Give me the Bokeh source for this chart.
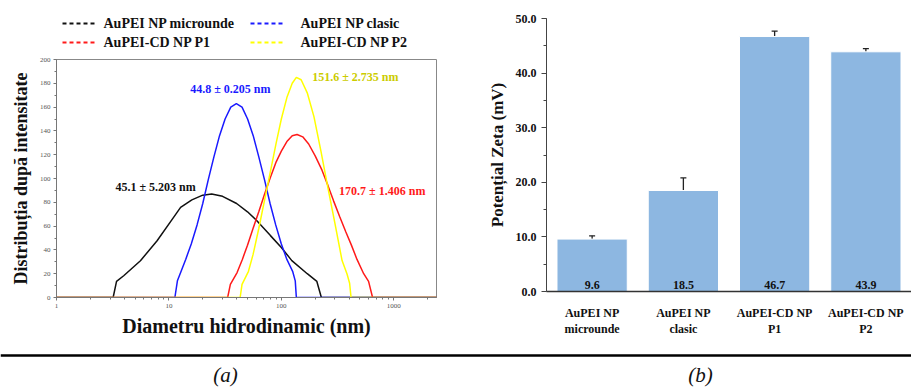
from bokeh.plotting import figure
from bokeh.models import (ColumnDataSource, Range1d, FactorRange,
                          SingleIntervalTicker, FixedTicker, PrintfTickFormatter,
                          Whisker, TeeHead, Span)
from bokeh.layouts import column, row
from bokeh.embed import file_html
from bokeh.resources import INLINE
from bokeh.core.properties import value

# ---------------- data: (a) DLS size distributions ----------------
black_d = [1, 3.19, 3.42, 3.96, 5.58, 7.85, 11.0, 12.7, 16, 20, 24, 30, 40, 50, 60, 80, 100, 124, 170, 207, 227, 2400]
black_v = [0, 0, 13.5, 18.3, 30.9, 47.7, 67.3, 75.7, 82, 86, 87, 85, 79, 72, 65, 52, 42, 31, 20, 13.5, 0, 0]

blue_d = [1, 11.3, 11.9, 14.1, 15.8, 17.8, 20, 22.4, 25.1, 28.2, 31.6, 35.5, 39.8, 44.7, 50.1, 56.2,
          63.1, 70.8, 79.4, 89.1, 100, 112, 126, 133, 136, 2400]
blue_v = [0, 0, 14, 32, 45, 61, 79, 99, 118, 136, 150, 160, 163, 160, 150, 136,
          118, 99, 79, 61, 45, 32, 22, 14, 0, 0]

red_d = [1, 33.3, 35.2, 40.4, 45, 50, 56, 63, 71, 80, 90, 100, 112, 125, 138, 155, 175, 200,
         230, 260, 292, 330, 375, 420, 471, 540, 597, 648, 2400]
red_v = [0, 0, 11, 21, 32, 44, 58, 72, 87, 101, 114, 123, 131, 136, 137, 135, 129, 119,
         107, 94, 81, 68, 55, 44, 32, 20, 13.5, 0, 0]

yellow_d = [1, 43, 44.7, 51, 56, 63, 71, 80, 90, 100, 112, 125, 136, 150, 170, 195, 225, 260,
            300, 347, 384, 405, 417, 2400]
yellow_v = [0, 0, 11, 22, 36, 58, 82, 106, 130, 150, 168, 180, 185, 183, 172, 152, 123, 92,
            62, 31, 19.7, 12, 0, 0]

series_names = ["AuPEI NP microunde", "AuPEI NP clasic", "AuPEI-CD NP P1", "AuPEI-CD NP P2"]
series_colors = ["#111111", "#1a1aff", "#ff1a1a", "#ffff00"]

peak_labels = ["45.1 ± 5.203 nm", "44.8 ± 0.205 nm", "170.7 ± 1.406 nm", "151.6 ± 2.735 nm"]
peak_label_x = [7.6, 35.2, 790, 455]
peak_label_y = [93, 175.6, 89.8, 185.7]
peak_label_colors = ["#111111", "#1a1aff", "#ff1a1a", "#cccc00"]

x_major = [1, 10, 100, 1000]
x_minor = [2, 3, 4, 5, 6, 7, 8, 9, 20, 30, 40, 50, 60, 70, 80, 90,
           200, 300, 400, 500, 600, 700, 800, 900, 2000]

# ---------------- data: (b) zeta potential ----------------
samples = ["AuPEI NP\nmicrounde", "AuPEI NP\nclasic", "AuPEI-CD NP\nP1", "AuPEI-CD NP\nP2"]
zeta = [9.6, 18.5, 46.7, 43.9]
zeta_err = [0.6, 2.3, 1.0, 0.6]

captions = ["(a)", "(b)"]

SERIF = "Liberation Serif"

# layout constants (screen pixels)
W1, W2, H_TOP, H_LEG, H_CAP = 460, 451, 296, 52, 40

# ================= legend strip for (a) =================
pl = figure(width=W1, height=H_LEG, x_range=Range1d(0, W1), y_range=Range1d(0, H_LEG),
            output_backend="svg", toolbar_location=None, min_border=0,
            outline_line_color=None)
pl.axis.visible = False
pl.grid.visible = False
leg_col_x = [62, 250]
leg_col_gap = [41, 50]
leg_row_y = [29, 10]
leg_pos = [(0, 0), (1, 0), (0, 1), (1, 1)]  # (column, row) for each series
for name, c, (ci, ri) in zip(series_names, series_colors, leg_pos):
    x0 = leg_col_x[ci]
    y0 = leg_row_y[ri]
    pl.line([x0, x0 + 32], [y0, y0], line_color=c, line_width=1.8, line_dash="4 3")
    pl.text([x0 + leg_col_gap[ci]], [y0], text=[name], text_font=value(SERIF),
            text_font_style="bold", text_font_size="14px", text_color="#111111",
            text_baseline="middle")

# ================= (a) =================
p1 = figure(width=W1, height=H_TOP, x_axis_type="log",
            x_range=Range1d(1, 2400), y_range=Range1d(0, 200),
            output_backend="svg", toolbar_location=None,
            min_border_left=56, min_border_right=24, min_border_top=7, min_border_bottom=51)
p1.xgrid.visible = False
p1.ygrid.visible = False
p1.outline_line_color = "#888888"

curves = [(black_d, black_v), (blue_d, blue_v), (red_d, red_v), (yellow_d, yellow_v)]
for (d, v), c in zip(curves, series_colors):
    p1.line(d, v, line_color=c, line_width=1.5)

lsrc = ColumnDataSource(dict(x=peak_label_x, y=peak_label_y, t=peak_labels, c=peak_label_colors))
p1.text(x="x", y="y", text="t", text_color="c", source=lsrc,
        text_font=value(SERIF), text_font_style="bold", text_font_size="12px",
        text_align="center", text_baseline="middle")

p1.xaxis.ticker = FixedTicker(ticks=x_major, minor_ticks=x_minor)
p1.xaxis.formatter = PrintfTickFormatter(format="%d")
p1.yaxis.ticker = SingleIntervalTicker(interval=20, num_minor_ticks=2)
for ax in (p1.xaxis, p1.yaxis):
    ax.major_label_text_font = SERIF
    ax.major_label_text_font_size = "7px"
    ax.major_label_text_color = "#555555"
    ax.axis_line_color = "#777777"
    ax.major_tick_line_color = "#777777"
    ax.minor_tick_line_color = "#777777"
    ax.major_tick_in = 0
    ax.major_tick_out = 3
    ax.minor_tick_in = 0
    ax.minor_tick_out = 2
    ax.major_label_standoff = 3
    ax.axis_label_text_font = SERIF
    ax.axis_label_text_font_style = "bold"
    ax.axis_label_text_color = "#111111"
p1.xaxis.axis_label = "Diametru hidrodinamic (nm)"
p1.xaxis.axis_label_text_font_size = "20px"
p1.xaxis.axis_label_standoff = 4
p1.yaxis.axis_label = "Distribuția după intensitate"
p1.yaxis.axis_label_text_font_size = "18px"
p1.yaxis.axis_label_standoff = 6

# ================= (b) =================
upper = [z + e for z, e in zip(zeta, zeta_err)]
lower = [z - e for z, e in zip(zeta, zeta_err)]
bsrc = ColumnDataSource(dict(sample=samples, zeta=zeta, upper=upper, lower=lower,
                             lab=["%.1f" % z for z in zeta], base=[0] * len(zeta)))

p2 = figure(width=W2, height=H_LEG + H_TOP, x_range=FactorRange(*samples), y_range=Range1d(0, 50),
            output_backend="svg", toolbar_location=None,
            min_border_left=86, min_border_right=0, min_border_top=18, min_border_bottom=57)
p2.xgrid.visible = False
p2.ygrid.visible = False
p2.outline_line_color = None
p2.x_range.range_padding = 0

p2.vbar(x="sample", top="zeta", width=0.77, source=bsrc,
        fill_color="#8DB7E1", line_color="white", line_width=1)
p2.add_layout(Whisker(source=bsrc, base="sample", upper="upper", lower="lower",
                      line_color="#222222", line_width=1.3,
                      upper_head=TeeHead(size=6, line_color="#222222", line_width=1.3),
                      lower_head=TeeHead(size=6, line_color="#222222", line_width=1.3)))
p2.text(x="sample", y="base", text="lab", source=bsrc,
        text_font=value(SERIF), text_font_style="bold", text_font_size="12px",
        text_color="#111111", text_align="center", text_baseline="bottom", y_offset=-3)

p2.yaxis.ticker = SingleIntervalTicker(interval=10, num_minor_ticks=2)
p2.yaxis.formatter = PrintfTickFormatter(format="%.1f")
p2.yaxis.major_tick_in = 0
p2.yaxis.major_tick_out = 5
p2.yaxis.minor_tick_in = 0
p2.yaxis.minor_tick_out = 3
p2.yaxis.axis_line_color = "#444444"
p2.yaxis.major_tick_line_color = "#444444"
p2.yaxis.minor_tick_line_color = "#444444"
p2.xaxis.major_tick_line_color = None
p2.xaxis.minor_tick_line_color = None
p2.xaxis.axis_line_color = "#333333"
p2.xaxis.axis_line_width = 1.5
p2.xaxis.major_label_standoff = 8
for ax in (p2.xaxis, p2.yaxis):
    ax.major_label_text_font = SERIF
    ax.major_label_text_font_style = "bold"
    ax.major_label_text_font_size = "12px"
    ax.major_label_text_color = "#111111"
p2.yaxis.axis_label = "Potențial Zeta (mV)"
p2.yaxis.axis_label_text_font = SERIF
p2.yaxis.axis_label_text_font_style = "bold"
p2.yaxis.axis_label_text_font_size = "17px"
p2.yaxis.axis_label_text_color = "#111111"
p2.yaxis.axis_label_standoff = 6

# ================= captions strip =================
p3 = figure(width=W1 + W2, height=H_CAP, x_range=Range1d(0, W1 + W2), y_range=Range1d(0, H_CAP),
            output_backend="svg", toolbar_location=None,
            min_border=0, outline_line_color=None)
p3.axis.visible = False
p3.grid.visible = False
p3.add_layout(Span(location=33, dimension="width", line_color="black", line_width=2.5))
csrc = ColumnDataSource(dict(x=[225, 700], y=[14, 14], t=captions))
p3.text(x="x", y="y", text="t", source=csrc, text_font=value(SERIF),
        text_font_style="italic", text_font_size="21px", text_color="#111111",
        text_align="center", text_baseline="middle")

for f in (pl, p1, p2, p3):
    f.frame_align = False

layout = column(row(column(pl, p1), p2), p3)
open("out.html", "w").write(file_html(layout, INLINE))
